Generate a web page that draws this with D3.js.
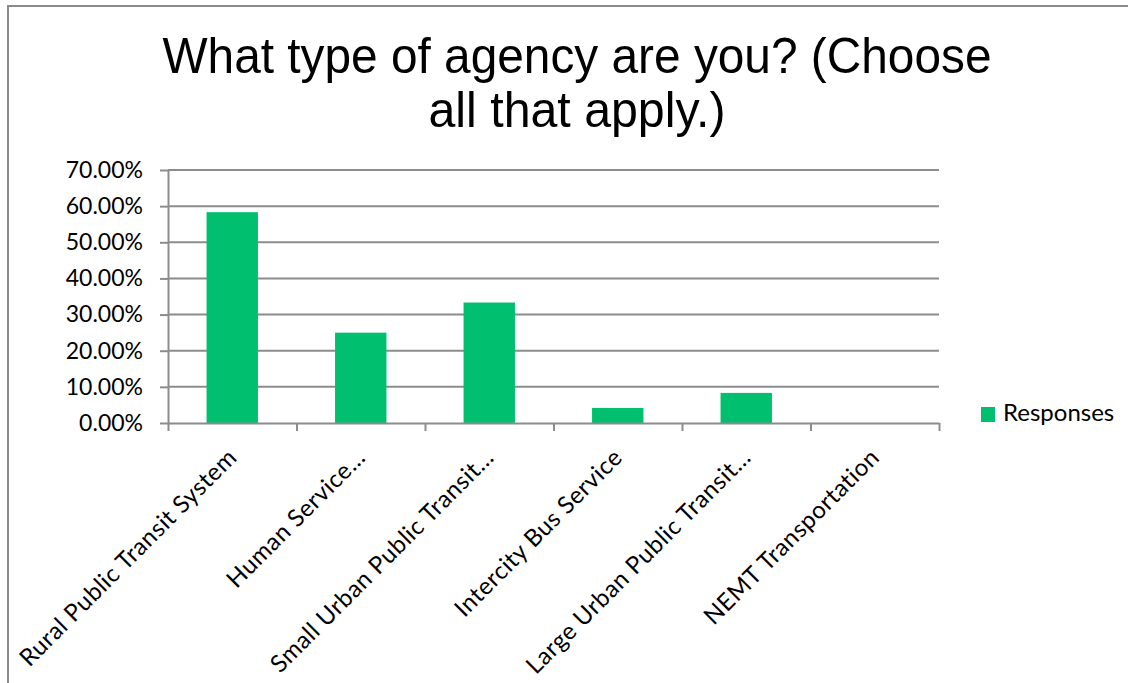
<!DOCTYPE html>
<html>
<head>
<meta charset="utf-8">
<script src="https://cdn.jsdelivr.net/npm/d3@7"></script>
<style>
  html, body { margin: 0; padding: 0; background: #fff; }
  svg { display: block; }
</style>
</head>
<body>
<svg id="chart" width="1128" height="683"></svg>
<script>
// Survey question: share of respondents by agency type
const categories = [
  "Rural Public Transit System",
  "Human Service…",
  "Small Urban Public Transit…",
  "Intercity Bus Service",
  "Large Urban Public Transit…",
  "NEMT Transportation"
];
const responses = [0.5833, 0.25, 0.3333, 0.0417, 0.0833, 0];
const yTicks = [0, 0.1, 0.2, 0.3, 0.4, 0.5, 0.6, 0.7];
const titleLines = ["What type of agency are you? (Choose", "all that apply.)"];
const seriesName = "Responses";

const svg = d3.select("#chart");
const W = 1128, H = 683;
const plot = { left: 168, right: 939, top: 170, bottom: 423 };
const barColor = "#00bf6f";
const gridColor = "#8c8c8c";
const labelFont = "Lato, 'Open Sans', sans-serif";

svg.append("rect").attr("width", W).attr("height", H).attr("fill", "#fff");

// chart frame (top and left edges visible)
svg.append("path")
  .attr("d", `M8,${H} L8,6 L${W},6`)
  .attr("fill", "none").attr("stroke", "#8a8a8a").attr("stroke-width", 2);

// title, set in a condensed width
const titleG = svg.append("g")
  .attr("font-family", "'Liberation Sans', Arial, sans-serif")
  .attr("font-size", 50).attr("fill", "#000").attr("text-anchor", "middle");
const titleLengths = [829, 297];
const titleBaselines = [73, 127];
titleLines.forEach((t, i) => {
  titleG.append("text")
    .attr("x", 577).attr("y", titleBaselines[i])
    .attr("textLength", titleLengths[i])
    .attr("lengthAdjust", "spacingAndGlyphs")
    .text(t);
});

const y = d3.scaleLinear().domain([0, 0.7]).range([plot.bottom, plot.top]);
const x = d3.scaleBand().domain(categories)
  .range([plot.left, plot.right]).paddingInner(0.6).paddingOuter(0.3);
const xEdges = d3.scaleLinear().domain([0, categories.length]).range([plot.left, plot.right]);

// horizontal gridlines
svg.append("g").selectAll("line").data(yTicks.slice(1)).join("line")
  .attr("x1", plot.left).attr("x2", plot.right)
  .attr("y1", d => y(d)).attr("y2", d => y(d))
  .attr("stroke", gridColor).attr("stroke-width", 2);

// bars
svg.append("g").selectAll("rect").data(responses).join("rect")
  .attr("x", (d, i) => x(categories[i]))
  .attr("width", x.bandwidth())
  .attr("y", d => y(d))
  .attr("height", d => y(0) - y(d))
  .attr("fill", barColor);

// y axis
const yAxis = svg.append("g").attr("transform", `translate(${plot.left},0)`)
  .call(d3.axisLeft(y).tickValues(yTicks).tickFormat(d3.format(".2%"))
    .tickSize(8).tickSizeOuter(0).tickPadding(17));
yAxis.select(".domain").attr("stroke", gridColor).attr("stroke-width", 2);
yAxis.selectAll(".tick line").attr("stroke", gridColor).attr("stroke-width", 2);
yAxis.selectAll(".tick text")
  .attr("font-family", labelFont).attr("font-size", 23).attr("fill", "#000");

// x axis with tick marks between categories
const xAxis = svg.append("g").attr("transform", `translate(0,${plot.bottom})`)
  .call(d3.axisBottom(xEdges).tickValues(d3.range(0, categories.length + 1))
    .tickFormat("").tickSize(8).tickSizeOuter(0));
xAxis.select(".domain").attr("stroke", gridColor).attr("stroke-width", 2);
xAxis.selectAll(".tick line").attr("stroke", gridColor).attr("stroke-width", 2);

// rotated category labels
svg.append("g").selectAll("text").data(categories).join("text")
  .attr("transform", d => `translate(${x(d) + x.bandwidth() / 2 + 6},${plot.bottom + 36}) rotate(-45)`)
  .attr("text-anchor", "end")
  .attr("font-family", labelFont).attr("font-size", 24)
  .attr("letter-spacing", 0.5).attr("fill", "#000")
  .text(d => d);

// legend
const legend = svg.append("g").attr("transform", "translate(981,407)");
legend.append("rect").attr("width", 14).attr("height", 15).attr("fill", barColor);
legend.append("text").attr("x", 22).attr("y", 14)
  .attr("font-family", labelFont).attr("font-size", 24).attr("fill", "#000")
  .text(seriesName);
</script>
</body>
</html>
